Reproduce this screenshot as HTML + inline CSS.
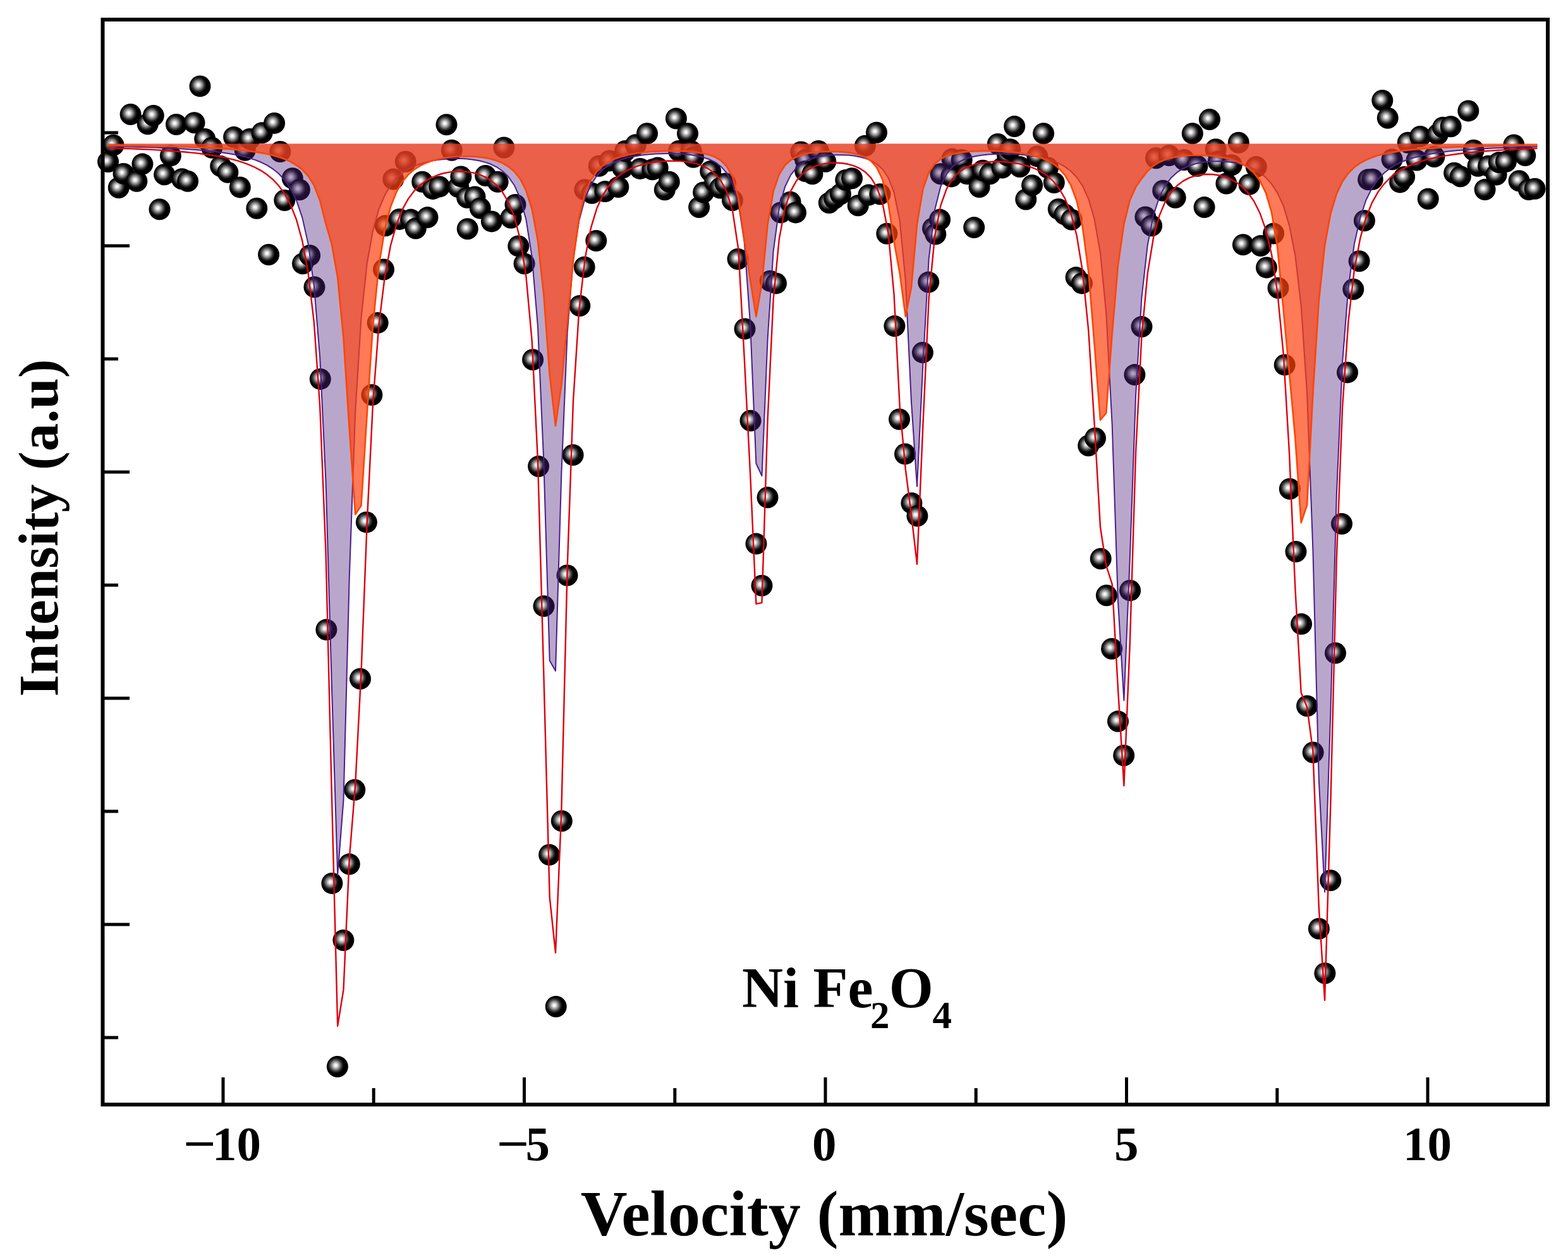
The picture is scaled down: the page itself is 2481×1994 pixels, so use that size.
<!DOCTYPE html><html><head><meta charset="utf-8"><style>html,body{margin:0;padding:0;background:#fff}svg{display:block}</style></head><body><svg xmlns="http://www.w3.org/2000/svg" width="2481" height="1994" viewBox="0 0 2481 1994">
<defs><radialGradient id="sp" cx="0.42" cy="0.44" r="0.5" fx="0.42" fy="0.44">
<stop offset="0" stop-color="#fff"/><stop offset="0.14" stop-color="#ebebeb"/><stop offset="0.28" stop-color="#afafaf"/><stop offset="0.41" stop-color="#7d7d7d"/><stop offset="0.55" stop-color="#3c3c3c"/><stop offset="0.68" stop-color="#141414"/><stop offset="0.78" stop-color="#000"/><stop offset="1" stop-color="#000"/></radialGradient></defs>
<rect width="2481" height="1994" fill="#fff"/>
<g fill="url(#sp)">
<circle cx="171.1" cy="256.1" r="17.0"/>
<circle cx="179.5" cy="229.7" r="17.0"/>
<circle cx="187.8" cy="297.1" r="17.0"/>
<circle cx="195.5" cy="274.9" r="17.0"/>
<circle cx="206.6" cy="181.0" r="17.0"/>
<circle cx="216.4" cy="286.7" r="17.0"/>
<circle cx="225.4" cy="259.6" r="17.0"/>
<circle cx="233.7" cy="196.3" r="17.0"/>
<circle cx="242.8" cy="183.0" r="17.0"/>
<circle cx="252.5" cy="331.2" r="17.0"/>
<circle cx="260.2" cy="276.3" r="17.0"/>
<circle cx="269.9" cy="246.4" r="17.0"/>
<circle cx="279.0" cy="197.0" r="17.0"/>
<circle cx="288.0" cy="283.2" r="17.0"/>
<circle cx="297.1" cy="286.7" r="17.0"/>
<circle cx="307.5" cy="194.2" r="17.0"/>
<circle cx="316.5" cy="136.4" r="17.0"/>
<circle cx="324.2" cy="219.9" r="17.0"/>
<circle cx="335.3" cy="233.8" r="17.0"/>
<circle cx="349.2" cy="263.1" r="17.0"/>
<circle cx="360.4" cy="272.8" r="17.0"/>
<circle cx="370.1" cy="217.1" r="17.0"/>
<circle cx="379.8" cy="296.4" r="17.0"/>
<circle cx="387.7" cy="237.7" r="17.0"/>
<circle cx="395.1" cy="219.9" r="17.0"/>
<circle cx="406.3" cy="329.8" r="17.0"/>
<circle cx="414.6" cy="210.2" r="17.0"/>
<circle cx="425.1" cy="403.0" r="17.0"/>
<circle cx="434.1" cy="194.9" r="17.0"/>
<circle cx="443.3" cy="240.0" r="17.0"/>
<circle cx="450.3" cy="317.0" r="17.0"/>
<circle cx="462.8" cy="282.2" r="17.0"/>
<circle cx="473.9" cy="300.3" r="17.0"/>
<circle cx="479.0" cy="417.2" r="17.0"/>
<circle cx="490.1" cy="404.2" r="17.0"/>
<circle cx="497.5" cy="454.3" r="17.0"/>
<circle cx="506.8" cy="599.9" r="17.0"/>
<circle cx="516.4" cy="996.6" r="17.0"/>
<circle cx="525.4" cy="1397.9" r="17.0"/>
<circle cx="533.9" cy="1688.0" r="17.0"/>
<circle cx="543.4" cy="1488.0" r="17.0"/>
<circle cx="552.8" cy="1367.6" r="17.0"/>
<circle cx="561.3" cy="1250.0" r="17.0"/>
<circle cx="570.0" cy="1074.3" r="17.0"/>
<circle cx="579.9" cy="826.4" r="17.0"/>
<circle cx="588.4" cy="625.0" r="17.0"/>
<circle cx="597.7" cy="510.9" r="17.0"/>
<circle cx="607.0" cy="426.5" r="17.0"/>
<circle cx="609.8" cy="357.3" r="17.0"/>
<circle cx="622.3" cy="283.6" r="17.0"/>
<circle cx="632.0" cy="346.9" r="17.0"/>
<circle cx="641.8" cy="255.7" r="17.0"/>
<circle cx="650.1" cy="347.6" r="17.0"/>
<circle cx="657.8" cy="361.5" r="17.0"/>
<circle cx="668.2" cy="287.7" r="17.0"/>
<circle cx="676.5" cy="344.1" r="17.0"/>
<circle cx="684.9" cy="298.9" r="17.0"/>
<circle cx="695.3" cy="295.4" r="17.0"/>
<circle cx="706.5" cy="197.3" r="17.0"/>
<circle cx="714.8" cy="237.7" r="17.0"/>
<circle cx="725.2" cy="296.1" r="17.0"/>
<circle cx="729.4" cy="279.4" r="17.0"/>
<circle cx="739.2" cy="312.8" r="17.0"/>
<circle cx="739.8" cy="362.2" r="17.0"/>
<circle cx="751.5" cy="311.4" r="17.0"/>
<circle cx="759.8" cy="329.5" r="17.0"/>
<circle cx="768.2" cy="278.0" r="17.0"/>
<circle cx="777.9" cy="350.4" r="17.0"/>
<circle cx="787.7" cy="287.7" r="17.0"/>
<circle cx="797.4" cy="233.5" r="17.0"/>
<circle cx="808.5" cy="344.8" r="17.0"/>
<circle cx="815.5" cy="323.9" r="17.0"/>
<circle cx="820.3" cy="389.4" r="17.0"/>
<circle cx="829.6" cy="417.2" r="17.0"/>
<circle cx="843.1" cy="569.3" r="17.0"/>
<circle cx="852.1" cy="738.1" r="17.0"/>
<circle cx="860.5" cy="959.2" r="17.0"/>
<circle cx="869.1" cy="1352.8" r="17.0"/>
<circle cx="879.7" cy="1593.0" r="17.0"/>
<circle cx="888.8" cy="1299.2" r="17.0"/>
<circle cx="897.5" cy="910.5" r="17.0"/>
<circle cx="906.6" cy="720.0" r="17.0"/>
<circle cx="917.3" cy="484.0" r="17.0"/>
<circle cx="924.7" cy="422.8" r="17.0"/>
<circle cx="925.4" cy="300.3" r="17.0"/>
<circle cx="936.5" cy="305.8" r="17.0"/>
<circle cx="943.3" cy="381.0" r="17.0"/>
<circle cx="947.7" cy="262.7" r="17.0"/>
<circle cx="957.4" cy="303.1" r="17.0"/>
<circle cx="964.4" cy="254.4" r="17.0"/>
<circle cx="978.3" cy="296.1" r="17.0"/>
<circle cx="985.2" cy="265.5" r="17.0"/>
<circle cx="989.2" cy="239.0" r="17.0"/>
<circle cx="1005.9" cy="229.3" r="17.0"/>
<circle cx="1012.9" cy="266.9" r="17.0"/>
<circle cx="1024.0" cy="211.2" r="17.0"/>
<circle cx="1032.4" cy="268.3" r="17.0"/>
<circle cx="1040.7" cy="265.5" r="17.0"/>
<circle cx="1051.8" cy="300.3" r="17.0"/>
<circle cx="1058.8" cy="287.7" r="17.0"/>
<circle cx="1069.9" cy="187.6" r="17.0"/>
<circle cx="1074.1" cy="239.0" r="17.0"/>
<circle cx="1088.0" cy="211.2" r="17.0"/>
<circle cx="1093.6" cy="239.0" r="17.0"/>
<circle cx="1097.1" cy="248.8" r="17.0"/>
<circle cx="1106.1" cy="328.1" r="17.0"/>
<circle cx="1113.1" cy="304.4" r="17.0"/>
<circle cx="1124.2" cy="271.1" r="17.0"/>
<circle cx="1131.1" cy="287.7" r="17.0"/>
<circle cx="1139.5" cy="297.5" r="17.0"/>
<circle cx="1147.8" cy="290.5" r="17.0"/>
<circle cx="1159.0" cy="317.0" r="17.0"/>
<circle cx="1167.5" cy="410.0" r="17.0"/>
<circle cx="1178.5" cy="520.4" r="17.0"/>
<circle cx="1187.5" cy="665.8" r="17.0"/>
<circle cx="1196.5" cy="860.6" r="17.0"/>
<circle cx="1205.5" cy="926.8" r="17.0"/>
<circle cx="1214.5" cy="787.3" r="17.0"/>
<circle cx="1218.7" cy="444.7" r="17.0"/>
<circle cx="1228.0" cy="448.4" r="17.0"/>
<circle cx="1235.3" cy="336.4" r="17.0"/>
<circle cx="1250.6" cy="319.8" r="17.0"/>
<circle cx="1259.0" cy="336.4" r="17.0"/>
<circle cx="1267.3" cy="240.4" r="17.0"/>
<circle cx="1274.3" cy="253.0" r="17.0"/>
<circle cx="1274.3" cy="271.1" r="17.0"/>
<circle cx="1285.4" cy="275.2" r="17.0"/>
<circle cx="1295.1" cy="239.0" r="17.0"/>
<circle cx="1306.3" cy="255.7" r="17.0"/>
<circle cx="1311.8" cy="321.1" r="17.0"/>
<circle cx="1320.2" cy="314.2" r="17.0"/>
<circle cx="1329.9" cy="307.2" r="17.0"/>
<circle cx="1338.3" cy="285.0" r="17.0"/>
<circle cx="1348.0" cy="282.2" r="17.0"/>
<circle cx="1357.7" cy="325.3" r="17.0"/>
<circle cx="1368.9" cy="230.7" r="17.0"/>
<circle cx="1374.4" cy="308.6" r="17.0"/>
<circle cx="1387.0" cy="209.8" r="17.0"/>
<circle cx="1392.5" cy="307.2" r="17.0"/>
<circle cx="1403.3" cy="369.8" r="17.0"/>
<circle cx="1415.4" cy="516.1" r="17.0"/>
<circle cx="1423.0" cy="663.5" r="17.0"/>
<circle cx="1432.0" cy="718.4" r="17.0"/>
<circle cx="1442.4" cy="796.3" r="17.0"/>
<circle cx="1451.4" cy="816.6" r="17.0"/>
<circle cx="1459.9" cy="557.9" r="17.0"/>
<circle cx="1469.2" cy="446.6" r="17.0"/>
<circle cx="1476.0" cy="361.5" r="17.0"/>
<circle cx="1480.3" cy="370.5" r="17.0"/>
<circle cx="1487.1" cy="347.6" r="17.0"/>
<circle cx="1488.5" cy="275.2" r="17.0"/>
<circle cx="1505.2" cy="279.4" r="17.0"/>
<circle cx="1506.6" cy="251.6" r="17.0"/>
<circle cx="1521.7" cy="253.0" r="17.0"/>
<circle cx="1530.1" cy="275.2" r="17.0"/>
<circle cx="1541.2" cy="360.1" r="17.0"/>
<circle cx="1549.6" cy="296.1" r="17.0"/>
<circle cx="1555.1" cy="269.7" r="17.0"/>
<circle cx="1566.3" cy="275.2" r="17.0"/>
<circle cx="1578.8" cy="227.9" r="17.0"/>
<circle cx="1585.7" cy="265.5" r="17.0"/>
<circle cx="1594.1" cy="246.0" r="17.0"/>
<circle cx="1598.3" cy="236.3" r="17.0"/>
<circle cx="1605.2" cy="200.1" r="17.0"/>
<circle cx="1613.6" cy="264.1" r="17.0"/>
<circle cx="1623.3" cy="315.6" r="17.0"/>
<circle cx="1633.1" cy="293.3" r="17.0"/>
<circle cx="1641.4" cy="247.4" r="17.0"/>
<circle cx="1651.1" cy="211.2" r="17.0"/>
<circle cx="1658.1" cy="265.5" r="17.0"/>
<circle cx="1667.8" cy="289.1" r="17.0"/>
<circle cx="1674.8" cy="330.9" r="17.0"/>
<circle cx="1684.5" cy="339.2" r="17.0"/>
<circle cx="1695.7" cy="347.6" r="17.0"/>
<circle cx="1702.6" cy="439.1" r="17.0"/>
<circle cx="1711.9" cy="448.4" r="17.0"/>
<circle cx="1722.2" cy="705.2" r="17.0"/>
<circle cx="1733.0" cy="693.5" r="17.0"/>
<circle cx="1741.7" cy="884.3" r="17.0"/>
<circle cx="1750.9" cy="942.3" r="17.0"/>
<circle cx="1759.1" cy="1026.7" r="17.0"/>
<circle cx="1769.0" cy="1141.6" r="17.0"/>
<circle cx="1778.2" cy="1195.5" r="17.0"/>
<circle cx="1788.1" cy="934.4" r="17.0"/>
<circle cx="1795.4" cy="593.1" r="17.0"/>
<circle cx="1806.5" cy="517.1" r="17.0"/>
<circle cx="1812.4" cy="343.4" r="17.0"/>
<circle cx="1822.1" cy="357.3" r="17.0"/>
<circle cx="1829.0" cy="250.2" r="17.0"/>
<circle cx="1840.2" cy="301.7" r="17.0"/>
<circle cx="1849.9" cy="246.0" r="17.0"/>
<circle cx="1859.7" cy="312.8" r="17.0"/>
<circle cx="1873.6" cy="253.0" r="17.0"/>
<circle cx="1886.8" cy="211.2" r="17.0"/>
<circle cx="1894.4" cy="262.7" r="17.0"/>
<circle cx="1905.6" cy="328.1" r="17.0"/>
<circle cx="1913.9" cy="189.0" r="17.0"/>
<circle cx="1923.7" cy="236.3" r="17.0"/>
<circle cx="1927.8" cy="255.7" r="17.0"/>
<circle cx="1940.4" cy="290.5" r="17.0"/>
<circle cx="1948.7" cy="261.3" r="17.0"/>
<circle cx="1959.8" cy="225.8" r="17.0"/>
<circle cx="1966.9" cy="387.2" r="17.0"/>
<circle cx="1976.5" cy="291.9" r="17.0"/>
<circle cx="1987.7" cy="264.1" r="17.0"/>
<circle cx="1994.7" cy="389.1" r="17.0"/>
<circle cx="2004.0" cy="423.4" r="17.0"/>
<circle cx="2015.1" cy="369.6" r="17.0"/>
<circle cx="2022.5" cy="455.8" r="17.0"/>
<circle cx="2032.7" cy="577.4" r="17.0"/>
<circle cx="2040.8" cy="773.7" r="17.0"/>
<circle cx="2050.5" cy="873.0" r="17.0"/>
<circle cx="2059.1" cy="987.6" r="17.0"/>
<circle cx="2068.1" cy="1117.3" r="17.0"/>
<circle cx="2077.7" cy="1190.8" r="17.0"/>
<circle cx="2086.9" cy="1469.8" r="17.0"/>
<circle cx="2096.4" cy="1540.2" r="17.0"/>
<circle cx="2105.3" cy="1393.2" r="17.0"/>
<circle cx="2113.0" cy="1033.5" r="17.0"/>
<circle cx="2123.0" cy="829.0" r="17.0"/>
<circle cx="2132.0" cy="589.4" r="17.0"/>
<circle cx="2141.3" cy="457.7" r="17.0"/>
<circle cx="2150.6" cy="413.2" r="17.0"/>
<circle cx="2158.9" cy="349.2" r="17.0"/>
<circle cx="2165.1" cy="284.2" r="17.0"/>
<circle cx="2171.7" cy="283.8" r="17.0"/>
<circle cx="2187.3" cy="159.0" r="17.0"/>
<circle cx="2195.7" cy="186.8" r="17.0"/>
<circle cx="2202.6" cy="252.2" r="17.0"/>
<circle cx="2215.1" cy="288.4" r="17.0"/>
<circle cx="2222.1" cy="280.0" r="17.0"/>
<circle cx="2227.7" cy="225.7" r="17.0"/>
<circle cx="2241.6" cy="253.6" r="17.0"/>
<circle cx="2247.1" cy="216.0" r="17.0"/>
<circle cx="2259.7" cy="314.8" r="17.0"/>
<circle cx="2269.4" cy="248.0" r="17.0"/>
<circle cx="2274.8" cy="212.8" r="17.0"/>
<circle cx="2283.1" cy="201.7" r="17.0"/>
<circle cx="2295.6" cy="200.3" r="17.0"/>
<circle cx="2301.1" cy="273.8" r="17.0"/>
<circle cx="2310.8" cy="279.3" r="17.0"/>
<circle cx="2323.3" cy="175.4" r="17.0"/>
<circle cx="2331.6" cy="237.7" r="17.0"/>
<circle cx="2338.5" cy="262.7" r="17.0"/>
<circle cx="2349.6" cy="300.1" r="17.0"/>
<circle cx="2355.1" cy="262.7" r="17.0"/>
<circle cx="2367.6" cy="276.5" r="17.0"/>
<circle cx="2371.8" cy="257.1" r="17.0"/>
<circle cx="2382.9" cy="255.8" r="17.0"/>
<circle cx="2395.3" cy="229.4" r="17.0"/>
<circle cx="2403.6" cy="286.2" r="17.0"/>
<circle cx="2413.3" cy="246.1" r="17.0"/>
<circle cx="2418.9" cy="300.1" r="17.0"/>
<circle cx="2428.6" cy="298.7" r="17.0"/>
</g>
<path d="M170.8,227.5 L170.8,231.6 180.1,231.8 189.4,232.0 198.7,232.2 208.0,232.4 217.4,232.7 226.7,233.0 236.0,233.3 245.3,233.6 254.6,234.0 264.0,234.4 273.3,234.8 282.6,235.3 291.9,235.8 301.2,236.4 310.5,237.1 319.9,237.9 329.2,238.7 338.5,239.7 347.8,240.9 357.1,242.2 366.5,243.7 375.8,245.4 385.1,247.5 394.4,250.1 403.7,253.1 413.1,256.8 422.4,261.4 431.7,267.3 441.0,274.8 450.3,284.8 459.6,298.2 469.0,317.0 478.3,344.4 487.6,385.9 496.9,452.5 506.2,565.4 515.6,763.6 524.9,1085.6 534.2,1384.9 543.5,1266.6 552.8,912.6 562.2,652.8 571.5,503.0 580.8,416.8 590.1,364.7 599.4,331.4 608.8,309.1 618.1,293.5 627.4,282.3 636.7,274.1 646.0,267.8 655.3,263.1 664.7,259.5 674.0,256.7 683.3,254.6 692.6,253.0 701.9,251.9 711.3,251.2 720.6,251.0 729.9,251.1 739.2,251.6 748.5,252.7 757.9,254.3 767.2,256.6 776.5,259.8 785.8,264.3 795.1,270.7 804.4,279.8 813.8,293.2 823.1,313.9 832.4,347.6 841.7,406.5 851.0,517.4 860.4,732.5 869.7,1045.4 879.0,1061.8 888.3,750.7 897.7,526.5 907.0,410.5 916.3,349.1 925.7,314.0 935.0,292.4 944.3,278.3 953.7,268.7 963.0,261.8 972.4,256.8 981.7,253.1 991.0,250.2 1000.4,248.1 1009.7,246.4 1019.0,245.1 1028.4,244.2 1037.7,243.6 1047.0,243.2 1056.4,243.0 1065.7,243.1 1075.0,243.5 1084.4,244.1 1093.7,245.2 1103.0,246.7 1112.4,248.9 1121.7,252.0 1131.1,256.5 1140.4,263.2 1149.7,273.7 1159.1,291.0 1168.4,322.0 1177.7,383.1 1187.1,512.6 1196.4,733.5 1205.5,753.0 1214.6,536.8 1223.7,397.1 1232.8,330.1 1241.9,296.0 1251.0,277.1 1260.1,265.6 1269.1,258.4 1278.2,253.5 1287.3,250.3 1296.4,248.0 1305.5,246.5 1314.6,245.6 1323.7,245.2 1332.8,245.2 1341.9,245.6 1351.0,246.6 1360.1,248.2 1369.2,250.6 1378.3,254.1 1387.3,259.5 1396.4,267.8 1405.5,281.2 1414.6,304.7 1423.7,349.6 1432.8,444.1 1441.9,634.6 1451.0,769.7 1460.4,575.8 1469.7,409.1 1479.1,331.9 1488.4,295.0 1497.8,275.4 1507.1,263.9 1516.5,256.8 1525.8,252.2 1535.2,249.0 1544.5,246.9 1553.9,245.4 1563.3,244.4 1572.6,243.9 1582.0,243.6 1591.3,243.6 1600.7,243.8 1610.0,244.3 1619.4,245.1 1628.7,246.2 1638.1,247.6 1647.4,249.4 1656.8,251.7 1666.1,254.8 1675.5,258.7 1684.9,263.9 1694.2,270.8 1703.6,280.5 1712.9,294.2 1722.3,314.8 1731.6,346.9 1741.0,400.5 1750.3,495.9 1759.7,672.0 1769.0,951.9 1778.4,1108.5 1787.7,886.5 1797.1,624.8 1806.4,471.0 1815.8,387.7 1825.1,340.4 1834.5,311.8 1843.8,293.5 1853.2,281.2 1862.5,272.7 1871.8,266.8 1881.2,262.5 1890.5,259.5 1899.9,257.4 1909.2,256.1 1918.6,255.4 1927.9,255.3 1937.2,255.7 1946.6,256.6 1955.9,258.2 1965.3,260.5 1974.6,263.6 1984.0,267.8 1993.3,273.3 2002.7,280.8 2012.0,291.1 2021.3,305.4 2030.7,325.9 2040.0,356.6 2049.4,404.5 2058.7,483.9 2068.1,622.7 2077.4,869.6 2086.8,1234.3 2096.1,1411.6 2105.4,1126.0 2114.8,784.0 2124.1,573.3 2133.5,455.2 2142.8,386.5 2152.2,344.2 2161.5,316.5 2170.9,297.6 2180.2,284.2 2189.5,274.3 2198.9,266.8 2208.2,261.0 2217.6,256.4 2226.9,252.8 2236.3,249.8 2245.6,247.3 2254.9,245.2 2264.3,243.5 2273.6,242.0 2283.0,240.7 2292.3,239.6 2301.7,238.6 2311.0,237.8 2320.4,237.0 2329.7,236.3 2339.0,235.8 2348.4,235.2 2357.7,234.7 2367.1,234.3 2376.4,233.9 2385.8,233.6 2395.1,233.2 2404.5,232.9 2413.8,232.7 2423.1,232.4 2432.5,232.2 L2432.5,227.5Z" fill="#50237d" fill-opacity="0.4"/>
<polyline points="170.8,231.6 180.1,231.8 189.4,232.0 198.7,232.2 208.0,232.4 217.4,232.7 226.7,233.0 236.0,233.3 245.3,233.6 254.6,234.0 264.0,234.4 273.3,234.8 282.6,235.3 291.9,235.8 301.2,236.4 310.5,237.1 319.9,237.9 329.2,238.7 338.5,239.7 347.8,240.9 357.1,242.2 366.5,243.7 375.8,245.4 385.1,247.5 394.4,250.1 403.7,253.1 413.1,256.8 422.4,261.4 431.7,267.3 441.0,274.8 450.3,284.8 459.6,298.2 469.0,317.0 478.3,344.4 487.6,385.9 496.9,452.5 506.2,565.4 515.6,763.6 524.9,1085.6 534.2,1384.9 543.5,1266.6 552.8,912.6 562.2,652.8 571.5,503.0 580.8,416.8 590.1,364.7 599.4,331.4 608.8,309.1 618.1,293.5 627.4,282.3 636.7,274.1 646.0,267.8 655.3,263.1 664.7,259.5 674.0,256.7 683.3,254.6 692.6,253.0 701.9,251.9 711.3,251.2 720.6,251.0 729.9,251.1 739.2,251.6 748.5,252.7 757.9,254.3 767.2,256.6 776.5,259.8 785.8,264.3 795.1,270.7 804.4,279.8 813.8,293.2 823.1,313.9 832.4,347.6 841.7,406.5 851.0,517.4 860.4,732.5 869.7,1045.4 879.0,1061.8 888.3,750.7 897.7,526.5 907.0,410.5 916.3,349.1 925.7,314.0 935.0,292.4 944.3,278.3 953.7,268.7 963.0,261.8 972.4,256.8 981.7,253.1 991.0,250.2 1000.4,248.1 1009.7,246.4 1019.0,245.1 1028.4,244.2 1037.7,243.6 1047.0,243.2 1056.4,243.0 1065.7,243.1 1075.0,243.5 1084.4,244.1 1093.7,245.2 1103.0,246.7 1112.4,248.9 1121.7,252.0 1131.1,256.5 1140.4,263.2 1149.7,273.7 1159.1,291.0 1168.4,322.0 1177.7,383.1 1187.1,512.6 1196.4,733.5 1205.5,753.0 1214.6,536.8 1223.7,397.1 1232.8,330.1 1241.9,296.0 1251.0,277.1 1260.1,265.6 1269.1,258.4 1278.2,253.5 1287.3,250.3 1296.4,248.0 1305.5,246.5 1314.6,245.6 1323.7,245.2 1332.8,245.2 1341.9,245.6 1351.0,246.6 1360.1,248.2 1369.2,250.6 1378.3,254.1 1387.3,259.5 1396.4,267.8 1405.5,281.2 1414.6,304.7 1423.7,349.6 1432.8,444.1 1441.9,634.6 1451.0,769.7 1460.4,575.8 1469.7,409.1 1479.1,331.9 1488.4,295.0 1497.8,275.4 1507.1,263.9 1516.5,256.8 1525.8,252.2 1535.2,249.0 1544.5,246.9 1553.9,245.4 1563.3,244.4 1572.6,243.9 1582.0,243.6 1591.3,243.6 1600.7,243.8 1610.0,244.3 1619.4,245.1 1628.7,246.2 1638.1,247.6 1647.4,249.4 1656.8,251.7 1666.1,254.8 1675.5,258.7 1684.9,263.9 1694.2,270.8 1703.6,280.5 1712.9,294.2 1722.3,314.8 1731.6,346.9 1741.0,400.5 1750.3,495.9 1759.7,672.0 1769.0,951.9 1778.4,1108.5 1787.7,886.5 1797.1,624.8 1806.4,471.0 1815.8,387.7 1825.1,340.4 1834.5,311.8 1843.8,293.5 1853.2,281.2 1862.5,272.7 1871.8,266.8 1881.2,262.5 1890.5,259.5 1899.9,257.4 1909.2,256.1 1918.6,255.4 1927.9,255.3 1937.2,255.7 1946.6,256.6 1955.9,258.2 1965.3,260.5 1974.6,263.6 1984.0,267.8 1993.3,273.3 2002.7,280.8 2012.0,291.1 2021.3,305.4 2030.7,325.9 2040.0,356.6 2049.4,404.5 2058.7,483.9 2068.1,622.7 2077.4,869.6 2086.8,1234.3 2096.1,1411.6 2105.4,1126.0 2114.8,784.0 2124.1,573.3 2133.5,455.2 2142.8,386.5 2152.2,344.2 2161.5,316.5 2170.9,297.6 2180.2,284.2 2189.5,274.3 2198.9,266.8 2208.2,261.0 2217.6,256.4 2226.9,252.8 2236.3,249.8 2245.6,247.3 2254.9,245.2 2264.3,243.5 2273.6,242.0 2283.0,240.7 2292.3,239.6 2301.7,238.6 2311.0,237.8 2320.4,237.0 2329.7,236.3 2339.0,235.8 2348.4,235.2 2357.7,234.7 2367.1,234.3 2376.4,233.9 2385.8,233.6 2395.1,233.2 2404.5,232.9 2413.8,232.7 2423.1,232.4 2432.5,232.2" fill="none" stroke="#4b1e8c" stroke-width="2" stroke-linejoin="round"/>
<path d="M170.8,227.5 L170.8,230.1 180.1,230.2 189.4,230.3 198.7,230.5 208.0,230.6 217.4,230.7 226.7,230.9 236.0,231.1 245.3,231.2 254.6,231.5 264.0,231.7 273.3,231.9 282.6,232.2 291.9,232.5 301.2,232.8 310.5,233.1 319.9,233.5 329.2,233.9 338.5,234.4 347.8,235.0 357.1,235.6 366.5,236.3 375.8,237.1 385.1,238.0 394.4,239.1 403.7,240.4 413.1,241.9 422.4,243.7 431.7,245.8 441.0,248.5 450.3,251.7 459.6,255.9 469.0,261.3 478.3,268.5 487.6,278.5 496.9,293.2 506.2,317.2 515.6,354.4 524.9,386.5 534.2,438.7 543.5,534.6 552.8,678.9 562.2,814.0 571.5,800.2 580.8,654.5 590.1,514.4 599.4,421.1 608.8,363.4 618.1,327.1 627.4,303.5 636.7,287.5 646.0,276.3 655.3,268.3 664.7,262.3 674.0,257.9 683.3,254.6 692.6,252.0 701.9,250.2 711.3,248.8 720.6,248.0 729.9,247.5 739.2,247.4 748.5,247.7 757.9,248.4 767.2,249.7 776.5,251.6 785.8,254.3 795.1,258.1 804.4,263.6 813.8,271.5 823.1,283.2 832.4,301.5 841.7,331.0 851.0,381.2 860.4,467.2 869.7,592.8 879.0,673.9 888.3,609.4 897.7,509.4 907.0,412.4 916.3,343.4 925.7,306.3 935.0,284.8 944.3,271.4 953.7,262.4 963.0,256.1 972.4,251.6 981.7,248.3 991.0,245.7 1000.4,243.8 1009.7,242.3 1019.0,241.1 1028.4,240.3 1037.7,239.6 1047.0,239.2 1056.4,239.0 1065.7,238.9 1075.0,239.0 1084.4,239.4 1093.7,240.1 1103.0,241.1 1112.4,242.6 1121.7,244.9 1131.1,248.4 1140.4,253.9 1149.7,263.0 1159.1,279.8 1168.4,314.2 1177.7,379.5 1187.1,443.4 1196.4,501.0 1205.5,448.5 1214.6,355.6 1223.7,302.7 1232.8,276.1 1241.9,261.8 1251.0,253.5 1260.1,248.3 1269.1,245.0 1278.2,242.8 1287.3,241.3 1296.4,240.4 1305.5,239.9 1314.6,239.7 1323.7,239.9 1332.8,240.4 1341.9,241.4 1351.0,242.9 1360.1,245.3 1369.2,249.0 1378.3,254.9 1387.3,265.1 1396.4,284.2 1405.5,322.6 1414.6,382.2 1423.7,432.7 1432.8,500.9 1441.9,455.3 1451.0,354.8 1460.4,299.1 1469.7,272.8 1479.1,259.3 1488.4,251.6 1497.8,246.9 1507.1,243.9 1516.5,241.9 1525.8,240.5 1535.2,239.7 1544.5,239.1 1553.9,238.9 1563.3,238.8 1572.6,239.0 1582.0,239.3 1591.3,239.9 1600.7,240.6 1610.0,241.6 1619.4,243.0 1628.7,244.7 1638.1,246.9 1647.4,249.8 1656.8,253.7 1666.1,259.0 1675.5,266.3 1684.9,276.9 1694.2,292.8 1703.6,317.8 1712.9,359.3 1722.3,430.1 1731.6,544.3 1741.0,664.6 1750.3,653.7 1759.7,528.0 1769.0,419.9 1778.4,354.5 1787.7,317.1 1797.1,295.9 1806.4,282.6 1815.8,270.8 1825.1,262.1 1834.5,256.5 1843.8,252.6 1853.2,250.0 1862.5,248.1 1871.8,246.8 1881.2,246.0 1890.5,245.7 1899.9,245.7 1909.2,246.0 1918.6,246.8 1927.9,247.9 1937.2,249.6 1946.6,251.9 1955.9,255.0 1965.3,259.3 1974.6,265.2 1984.0,273.6 1993.3,285.8 2002.7,304.7 2012.0,336.0 2021.3,392.1 2030.7,490.2 2040.0,590.2 2049.4,693.7 2058.7,827.2 2068.1,799.3 2077.4,622.7 2086.8,476.2 2096.1,388.6 2105.4,337.8 2114.8,307.0 2124.1,287.3 2133.5,274.1 2142.8,264.8 2152.2,258.1 2161.5,253.0 2170.9,249.2 2180.2,246.1 2189.5,243.7 2198.9,241.8 2208.2,240.1 2217.6,238.8 2226.9,237.7 2236.3,236.7 2245.6,235.9 2254.9,235.2 2264.3,234.6 2273.6,234.0 2283.0,233.5 2292.3,233.1 2301.7,232.7 2311.0,232.4 2320.4,232.1 2329.7,231.8 2339.0,231.6 2348.4,231.3 2357.7,231.1 2367.1,230.9 2376.4,230.8 2385.8,230.6 2395.1,230.5 2404.5,230.3 2413.8,230.2 2423.1,230.1 2432.5,230.0 L2432.5,227.5Z" fill="#ff4110" fill-opacity="0.7"/>
<polyline points="170.8,230.1 180.1,230.2 189.4,230.3 198.7,230.5 208.0,230.6 217.4,230.7 226.7,230.9 236.0,231.1 245.3,231.2 254.6,231.5 264.0,231.7 273.3,231.9 282.6,232.2 291.9,232.5 301.2,232.8 310.5,233.1 319.9,233.5 329.2,233.9 338.5,234.4 347.8,235.0 357.1,235.6 366.5,236.3 375.8,237.1 385.1,238.0 394.4,239.1 403.7,240.4 413.1,241.9 422.4,243.7 431.7,245.8 441.0,248.5 450.3,251.7 459.6,255.9 469.0,261.3 478.3,268.5 487.6,278.5 496.9,293.2 506.2,317.2 515.6,354.4 524.9,386.5 534.2,438.7 543.5,534.6 552.8,678.9 562.2,814.0 571.5,800.2 580.8,654.5 590.1,514.4 599.4,421.1 608.8,363.4 618.1,327.1 627.4,303.5 636.7,287.5 646.0,276.3 655.3,268.3 664.7,262.3 674.0,257.9 683.3,254.6 692.6,252.0 701.9,250.2 711.3,248.8 720.6,248.0 729.9,247.5 739.2,247.4 748.5,247.7 757.9,248.4 767.2,249.7 776.5,251.6 785.8,254.3 795.1,258.1 804.4,263.6 813.8,271.5 823.1,283.2 832.4,301.5 841.7,331.0 851.0,381.2 860.4,467.2 869.7,592.8 879.0,673.9 888.3,609.4 897.7,509.4 907.0,412.4 916.3,343.4 925.7,306.3 935.0,284.8 944.3,271.4 953.7,262.4 963.0,256.1 972.4,251.6 981.7,248.3 991.0,245.7 1000.4,243.8 1009.7,242.3 1019.0,241.1 1028.4,240.3 1037.7,239.6 1047.0,239.2 1056.4,239.0 1065.7,238.9 1075.0,239.0 1084.4,239.4 1093.7,240.1 1103.0,241.1 1112.4,242.6 1121.7,244.9 1131.1,248.4 1140.4,253.9 1149.7,263.0 1159.1,279.8 1168.4,314.2 1177.7,379.5 1187.1,443.4 1196.4,501.0 1205.5,448.5 1214.6,355.6 1223.7,302.7 1232.8,276.1 1241.9,261.8 1251.0,253.5 1260.1,248.3 1269.1,245.0 1278.2,242.8 1287.3,241.3 1296.4,240.4 1305.5,239.9 1314.6,239.7 1323.7,239.9 1332.8,240.4 1341.9,241.4 1351.0,242.9 1360.1,245.3 1369.2,249.0 1378.3,254.9 1387.3,265.1 1396.4,284.2 1405.5,322.6 1414.6,382.2 1423.7,432.7 1432.8,500.9 1441.9,455.3 1451.0,354.8 1460.4,299.1 1469.7,272.8 1479.1,259.3 1488.4,251.6 1497.8,246.9 1507.1,243.9 1516.5,241.9 1525.8,240.5 1535.2,239.7 1544.5,239.1 1553.9,238.9 1563.3,238.8 1572.6,239.0 1582.0,239.3 1591.3,239.9 1600.7,240.6 1610.0,241.6 1619.4,243.0 1628.7,244.7 1638.1,246.9 1647.4,249.8 1656.8,253.7 1666.1,259.0 1675.5,266.3 1684.9,276.9 1694.2,292.8 1703.6,317.8 1712.9,359.3 1722.3,430.1 1731.6,544.3 1741.0,664.6 1750.3,653.7 1759.7,528.0 1769.0,419.9 1778.4,354.5 1787.7,317.1 1797.1,295.9 1806.4,282.6 1815.8,270.8 1825.1,262.1 1834.5,256.5 1843.8,252.6 1853.2,250.0 1862.5,248.1 1871.8,246.8 1881.2,246.0 1890.5,245.7 1899.9,245.7 1909.2,246.0 1918.6,246.8 1927.9,247.9 1937.2,249.6 1946.6,251.9 1955.9,255.0 1965.3,259.3 1974.6,265.2 1984.0,273.6 1993.3,285.8 2002.7,304.7 2012.0,336.0 2021.3,392.1 2030.7,490.2 2040.0,590.2 2049.4,693.7 2058.7,827.2 2068.1,799.3 2077.4,622.7 2086.8,476.2 2096.1,388.6 2105.4,337.8 2114.8,307.0 2124.1,287.3 2133.5,274.1 2142.8,264.8 2152.2,258.1 2161.5,253.0 2170.9,249.2 2180.2,246.1 2189.5,243.7 2198.9,241.8 2208.2,240.1 2217.6,238.8 2226.9,237.7 2236.3,236.7 2245.6,235.9 2254.9,235.2 2264.3,234.6 2273.6,234.0 2283.0,233.5 2292.3,233.1 2301.7,232.7 2311.0,232.4 2320.4,232.1 2329.7,231.8 2339.0,231.6 2348.4,231.3 2357.7,231.1 2367.1,230.9 2376.4,230.8 2385.8,230.6 2395.1,230.5 2404.5,230.3 2413.8,230.2 2423.1,230.1 2432.5,230.0" fill="none" stroke="#ff4500" stroke-width="2.6" stroke-linejoin="round"/>
<polyline points="170.8,234.1 180.1,234.4 189.4,234.7 198.7,235.0 208.0,235.4 217.4,235.8 226.7,236.2 236.0,236.6 245.3,237.1 254.6,237.7 264.0,238.3 273.3,239.0 282.6,239.7 291.9,240.5 301.2,241.4 310.5,242.4 319.9,243.5 329.2,244.8 338.5,246.2 347.8,247.8 357.1,249.7 366.5,251.9 375.8,254.4 385.1,257.3 394.4,260.8 403.7,265.0 413.1,270.1 422.4,276.3 431.7,284.0 441.0,293.9 450.3,306.8 459.6,323.9 469.0,347.5 478.3,381.1 487.6,431.3 496.9,510.4 506.2,643.0 515.6,875.6 524.9,1257.4 534.2,1623.7 543.5,1566.4 552.8,1358.3 562.2,1242.0 571.5,1063.8 580.8,825.6 590.1,637.1 599.4,515.0 608.8,438.1 618.1,388.3 627.4,354.7 636.7,331.3 646.0,314.6 655.3,302.2 664.7,293.0 674.0,286.1 683.3,280.9 692.6,277.0 701.9,274.2 711.3,272.4 720.6,271.4 729.9,271.2 739.2,271.9 748.5,273.4 757.9,276.0 767.2,279.9 776.5,285.4 785.8,293.1 795.1,304.1 804.4,319.8 813.8,343.0 823.1,378.8 832.4,437.2 841.7,539.4 851.0,730.5 860.4,1069.7 869.7,1419.7 879.0,1507.9 888.3,1284.8 897.7,897.1 907.0,634.3 916.3,490.0 925.7,409.1 935.0,360.6 944.3,329.8 953.7,309.0 963.0,294.5 972.4,284.1 981.7,276.3 991.0,270.4 1000.4,265.9 1009.7,262.4 1019.0,259.8 1028.4,257.7 1037.7,256.3 1047.0,255.3 1056.4,254.7 1065.7,254.6 1075.0,254.9 1084.4,255.7 1093.7,257.2 1103.0,259.4 1112.4,262.8 1121.7,267.6 1131.1,274.8 1140.4,285.6 1149.7,303.1 1159.1,333.5 1168.4,394.9 1177.7,565.8 1187.1,749.7 1196.4,955.7 1205.5,953.8 1214.6,664.1 1223.7,472.8 1232.8,378.5 1241.9,329.9 1251.0,302.6 1260.1,286.1 1269.1,275.5 1278.2,268.6 1287.3,263.9 1296.4,260.8 1305.5,258.9 1314.6,257.8 1323.7,257.7 1332.8,258.3 1341.9,259.8 1351.0,262.3 1360.1,266.3 1369.2,272.3 1378.3,281.6 1387.3,296.4 1396.4,321.6 1405.5,368.7 1414.6,466.2 1423.7,643.9 1432.8,742.9 1441.9,814.0 1451.0,892.8 1460.4,671.9 1469.7,471.7 1479.1,373.7 1488.4,325.1 1497.8,298.7 1507.1,283.0 1516.5,273.2 1525.8,266.7 1535.2,262.4 1544.5,259.4 1553.9,257.5 1563.3,256.4 1572.6,255.8 1582.0,255.8 1591.3,256.3 1600.7,257.3 1610.0,258.7 1619.4,260.8 1628.7,263.5 1638.1,267.2 1647.4,271.9 1656.8,278.1 1666.1,286.4 1675.5,297.8 1684.9,313.8 1694.2,337.0 1703.6,372.5 1712.9,429.1 1722.3,522.9 1731.6,670.5 1741.0,834.3 1750.3,895.0 1759.7,924.4 1769.0,1090.2 1778.4,1243.5 1787.7,1020.6 1797.1,715.6 1806.4,532.0 1815.8,432.4 1825.1,375.7 1834.5,341.1 1843.8,318.9 1853.2,304.0 1862.5,293.7 1871.8,286.6 1881.2,281.6 1890.5,278.4 1899.9,276.5 1909.2,275.7 1918.6,276.0 1927.9,277.2 1937.2,279.6 1946.6,283.3 1955.9,288.4 1965.3,295.4 1974.6,305.1 1984.0,318.3 1993.3,336.7 2002.7,363.1 2012.0,402.2 2021.3,462.8 2030.7,560.0 2040.0,716.2 2049.4,931.7 2058.7,1096.3 2068.1,1119.3 2077.4,1188.3 2086.8,1435.6 2096.1,1583.0 2105.4,1270.3 2114.8,884.7 2124.1,644.1 2133.5,507.9 2142.8,427.7 2152.2,377.4 2161.5,344.0 2170.9,320.9 2180.2,304.1 2189.5,291.6 2198.9,282.0 2208.2,274.5 2217.6,268.5 2226.9,263.6 2236.3,259.6 2245.6,256.2 2254.9,253.4 2264.3,251.0 2273.6,248.9 2283.0,247.1 2292.3,245.6 2301.7,244.2 2311.0,243.0 2320.4,241.9 2329.7,240.9 2339.0,240.1 2348.4,239.3 2357.7,238.6 2367.1,238.0 2376.4,237.4 2385.8,236.9 2395.1,236.4 2404.5,235.9 2413.8,235.5 2423.1,235.1 2432.5,234.8" fill="none" stroke="#dc000f" stroke-width="2.4" stroke-linejoin="round"/>
<g stroke="#000" stroke-width="6" fill="none"><rect x="162.5" y="31" width="2286.5" height="1717"/></g>
<path d="M353.0 1745V1705 M829.5 1745V1705 M1306.0 1745V1705 M1782.5 1745V1705 M2259.0 1745V1705 M591.2 1745V1722 M1067.8 1745V1722 M1544.2 1745V1722 M2020.8 1745V1722 M165 210.0H187 M165 389.0H205 M165 568.0H187 M165 747.0H205 M165 926.0H187 M165 1105.0H205 M165 1284.0H187 M165 1463.0H205 M165 1642.0H187" stroke="#000" stroke-width="5" fill="none"/>
<text transform="translate(289.8 1835.5) scale(1.186 1)" font-family="Liberation Serif, serif" font-weight="bold" font-size="77">−</text><text x="336" y="1835.5" font-family="Liberation Serif, serif" font-weight="bold" font-size="77">10</text>
<text transform="translate(785.4 1835.5) scale(1.186 1)" font-family="Liberation Serif, serif" font-weight="bold" font-size="77">−</text><text x="831.6" y="1835.5" font-family="Liberation Serif, serif" font-weight="bold" font-size="77">5</text>
<text x="1285" y="1835.5" font-family="Liberation Serif, serif" font-weight="bold" font-size="77">0</text>
<text x="1763" y="1835.5" font-family="Liberation Serif, serif" font-weight="bold" font-size="77">5</text>
<text x="2220" y="1835.5" font-family="Liberation Serif, serif" font-weight="bold" font-size="77">10</text>
<text x="1304.2" y="1955" font-family="Liberation Serif, serif" font-weight="bold" font-size="102.2" text-anchor="middle">Velocity (mm/sec)</text>
<text transform="translate(90.5 835.4) rotate(-90)" font-family="Liberation Serif, serif" font-weight="bold" font-size="89" text-anchor="middle">Intensity (a.u)</text>
<text font-family="Liberation Serif, serif" font-weight="bold" font-size="90"><tspan x="1174" y="1593.5">Ni Fe</tspan><tspan x="1377" y="1626.5" font-size="61">2</tspan><tspan x="1406.7" y="1593.5">O</tspan><tspan x="1475.5" y="1626.5" font-size="61">4</tspan></text>
</svg></body></html>
